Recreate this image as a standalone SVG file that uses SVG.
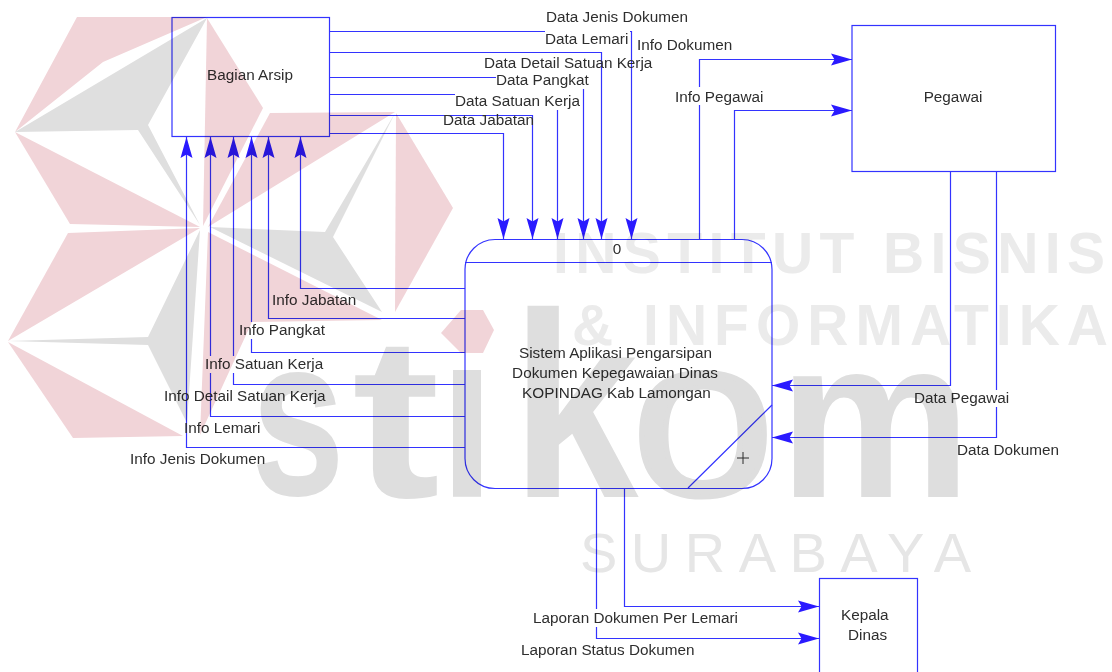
<svg xmlns="http://www.w3.org/2000/svg" width="1112" height="672" viewBox="0 0 1112 672">
<style>
text{font-family:"Liberation Sans",Arial,sans-serif;font-size:15.3px;fill:#2e2e2e}
.m{text-anchor:middle}
.shape{fill:none;stroke:#3333ff;stroke-width:1.2}
.wire{fill:none;stroke:#3333ff;stroke-width:1.2;marker-end:url(#arrow)}
.mask{fill:#fff}
#watermark{mix-blend-mode:multiply}
.pink{fill:#f1d4d8}
.gray{fill:#dfdfdf}
#watermark text{font-weight:bold;fill:#ebebeb;font-size:57px}
#watermark text.logo{fill:#dedede;font-size:240px;text-anchor:middle}
#watermark text.thin{font-weight:normal;fill:#e6e6e6;font-size:56px}
</style>
<defs>
<marker id="arrow" markerUnits="userSpaceOnUse" markerWidth="24" markerHeight="14" refX="21" refY="6.500" orient="auto">
<path d="M21 6.500L0 .5L3.500 6.500L0 12.500Z" fill="#2a1aff"/>
</marker>
<clipPath id="idot"><rect x="430" y="370" width="80" height="140"/></clipPath>
</defs>
<rect width="1112" height="672" fill="#fff"/>
<g id="connectors">
<path class="wire" d="M329.500 133.500H503.500V239"/>
<path class="wire" d="M329.500 115.500H532.500V239"/>
<path class="wire" d="M329.500 94.500H557.500V239"/>
<path class="wire" d="M329.500 77.500H583.500V239"/>
<path class="wire" d="M329.500 52.500H601.500V239"/>
<path class="wire" d="M329.500 31.500H631.500V239"/>
<path class="wire" d="M699.500 239V59.500H852"/>
<path class="wire" d="M734.500 239V110.500H852"/>
<path class="wire" d="M950.500 171V385.500H772"/>
<path class="wire" d="M996.500 171V437.500H772"/>
<path class="wire" d="M465 288.500H300.500V137"/>
<path class="wire" d="M465 318.500H268.500V137"/>
<path class="wire" d="M465 352.500H251.500V137"/>
<path class="wire" d="M465 384.500H233.500V137"/>
<path class="wire" d="M465 416.500H210.500V137"/>
<path class="wire" d="M465 447.500H186.500V137"/>
<path class="wire" d="M624.500 488V606.500H819"/>
<path class="wire" d="M596.500 488V638.500H819"/>
<g id="label-masks">
<rect class="mask" x="545" y="30" width="85" height="17"/>
<rect class="mask" x="496" y="72" width="94" height="17"/>
<rect class="mask" x="455" y="92" width="126" height="18"/>
<rect class="mask" x="675" y="87" width="90" height="18"/>
<rect class="mask" x="914" y="390" width="96" height="17"/>
<rect class="mask" x="239" y="322" width="87" height="17"/>
<rect class="mask" x="205" y="356" width="118" height="17"/>
<rect class="mask" x="533" y="609" width="205" height="18"/>
</g>
<g id="connector-labels">
<text x="546" y="22">Data Jenis Dokumen</text>
<text x="545" y="44">Data Lemari</text>
<text x="637" y="50">Info Dokumen</text>
<text x="484" y="68">Data Detail Satuan Kerja</text>
<text x="496" y="85">Data Pangkat</text>
<text x="455" y="106">Data Satuan Kerja</text>
<text x="443" y="125">Data Jabatan</text>
<text x="675" y="102">Info Pegawai</text>
<text x="272" y="305">Info Jabatan</text>
<text x="239" y="335">Info Pangkat</text>
<text x="205" y="369">Info Satuan Kerja</text>
<text x="164" y="401">Info Detail Satuan Kerja</text>
<text x="184" y="433">Info Lemari</text>
<text x="130" y="464">Info Jenis Dokumen</text>
<text x="914" y="403">Data Pegawai</text>
<text x="957" y="455">Data Dokumen</text>
<text x="533" y="623">Laporan Dokumen Per Lemari</text>
<text x="521" y="655">Laporan Status Dokumen</text>
</g>
</g>
<g id="node-bagian-arsip">
<rect class="shape" x="172" y="17.500" width="157.500" height="119"/>
<text class="m" x="250" y="80">Bagian Arsip</text>
</g>
<g id="node-pegawai">
<rect class="shape" x="852" y="25.500" width="203.500" height="146"/>
<text class="m" x="953" y="102">Pegawai</text>
</g>
<g id="node-kepala-dinas">
<rect class="shape" x="819.500" y="578.500" width="98" height="110"/>
<text x="841" y="620">Kepala</text>
<text x="848" y="640">Dinas</text>
</g>
<g id="node-process">
<rect class="shape" x="465" y="239.500" width="307" height="249" rx="30" ry="30"/>
<path class="shape" d="M465 262.500H772M772 405L688 488"/>
<path class="shape" style="stroke:#333;stroke-width:1" d="M743 452V464M737 458H749"/>
<text class="m" x="617" y="254">0</text>
<text class="m" x="615.500" y="358">Sistem Aplikasi Pengarsipan</text>
<text class="m" x="615" y="378">Dokumen Kepegawaian Dinas</text>
<text class="m" x="616.500" y="398">KOPINDAG Kab Lamongan</text>
</g>
<g id="watermark">
<polygon class="pink" points="77,17 207,17 103,62 15,132"/>
<polygon class="gray" points="15,132 207,18 148,125 200,225 138,130"/>
<polygon class="pink" points="207,18 263,108 203,226"/>
<polygon class="pink" points="15,132 200,227 70,224"/>
<polygon class="pink" points="200,228 68,233 8,341"/>
<polygon class="pink" points="270,113 395,112 208,227"/>
<polygon class="gray" points="210,227 325,232 395,113 333,237 382,312"/>
<polygon class="pink" points="396,113 453,208 395,312"/>
<polygon class="pink" points="208,232 382,320 252,322 200,435"/>
<polygon class="gray" points="200,230 148,337 8,341 148,345 187,423"/>
<polygon class="pink" points="8,342 183,436 73,438"/>
<polygon class="pink" points="441,333 461,310 483,310 494,330 483,353 461,353"/>
<text x="553" y="273" textLength="552" lengthAdjust="spacing">INSTITUT BISNIS</text>
<text x="572" y="345" textLength="536" lengthAdjust="spacing">&amp; INFORMATIKA</text>
<text class="thin" x="580" y="572" textLength="391" lengthAdjust="spacing">SURABAYA</text>
<text class="logo" transform="translate(298 495) scale(.7 .95)">s</text>
<text class="logo" transform="translate(396 497) scale(1.1 .96)">t</text>
<text class="logo" clip-path="url(#idot)" transform="translate(467 497) scale(.85 1) translate(-467 -497)" x="467" y="497">i</text>
<text class="logo" transform="translate(575 497) scale(.95 1.1)">k</text>
<text class="logo" style="font-weight:normal;stroke:#dedede;stroke-width:5" transform="translate(703 495) scale(1.08 .95)">o</text>
<text class="logo" transform="translate(875 497) scale(.9 .95)">m</text>
</g>
</svg>
